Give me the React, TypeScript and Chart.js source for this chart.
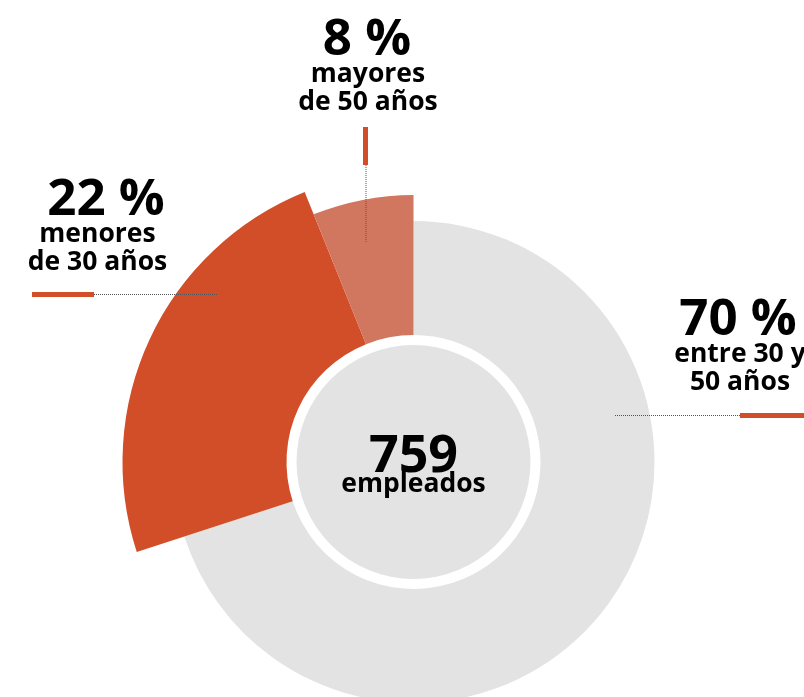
import React, { useEffect, useRef } from "react";
import { Chart, registerables } from "chart.js";

Chart.register(...registerables);

const categories = ["entre 30 y 50 años", "menores de 30 años", "mayores de 50 años"];
// Slice sizes as drawn in the picture (angles), and the percentages printed in the labels
const sliceValues = [70, 23.9, 6.1];
const percentLabels = [70, 22, 8];
const totalEmployees = 759;
const totalLabel = "empleados";
const labelLines = [["entre 30 y", "50 años"], ["menores", "de 30 años"], ["mayores", "de 50 años"]];

const colors = ["#e2e3e2", "#d14e28", "#d1765f"];
const radii = [241, 291, 267];
const CUT = 127;
const INNER = 117;
const FONT = '"Open Sans", "Noto Sans", sans-serif';

type LabelPos = {
  px: number; tx: number; ty: number;
  bar: [number, number, number, number];
  dot: [number, number, number, number];
};
const labelPos: LabelPos[] = [
  { px: 738, tx: 740, ty: 335, bar: [740, 413, 64, 5], dot: [615, 415.5, 740, 415.5] },
  { px: 106, tx: 97.5, ty: 215, bar: [32, 292, 62, 5], dot: [94, 294.5, 218, 294.5] },
  { px: 367, tx: 368, ty: 55, bar: [363, 127, 5, 38], dot: [366, 165, 366, 243] },
];

const overlay = {
  id: "overlay",
  afterDatasetsUpdate(chart: any) {
    const meta = chart.getDatasetMeta(0);
    meta.data.forEach((arc: any, i: number) => {
      arc.outerRadius = radii[i];
      arc.innerRadius = CUT;
    });
  },
  afterDatasetsDraw(chart: any) {
    const ctx = chart.ctx as CanvasRenderingContext2D;
    const arc = chart.getDatasetMeta(0).data[0];
    const cx = arc.x, cy = arc.y;
    ctx.save();
    ctx.fillStyle = "#e2e3e2";
    ctx.beginPath();
    ctx.arc(cx, cy, INNER, 0, Math.PI * 2);
    ctx.fill();
    ctx.fillStyle = "#000";
    ctx.textAlign = "center";
    ctx.textBaseline = "alphabetic";
    ctx.font = `bold 52px ${FONT}`;
    ctx.fillText(String(totalEmployees), cx, cy + 10);
    ctx.font = `bold 26.5px ${FONT}`;
    ctx.fillText(totalLabel, cx, cy + 30);

    percentLabels.forEach((v, i) => {
      const p = labelPos[i];
      ctx.fillStyle = "#000";
      ctx.font = `bold 51px ${FONT}`;
      ctx.fillText(`${v} %`, p.px, p.ty);
      ctx.font = `bold 26.5px ${FONT}`;
      labelLines[i].forEach((ln, j) => {
        ctx.fillText(ln, p.tx, p.ty + 27 + j * 27.5);
      });
      ctx.fillStyle = "#d14e28";
      ctx.fillRect(p.bar[0], p.bar[1], p.bar[2], p.bar[3]);
      ctx.strokeStyle = "#555";
      ctx.lineWidth = 1;
      ctx.setLineDash([1, 1]);
      ctx.beginPath();
      ctx.moveTo(p.dot[0], p.dot[1]);
      ctx.lineTo(p.dot[2], p.dot[3]);
      ctx.stroke();
      ctx.setLineDash([]);
    });
    ctx.restore();
  },
};

export default function App() {
  const ref = useRef<HTMLCanvasElement>(null);
  useEffect(() => {
    if (!ref.current) return;
    const chart = new Chart(ref.current, {
      type: "doughnut",
      data: {
        labels: categories,
        datasets: [
          {
            data: sliceValues,
            backgroundColor: colors,
            borderWidth: 0,
          },
        ],
      },
      options: {
        animation: false,
        responsive: false,
        events: [],
        cutout: CUT,
        layout: { padding: { left: 23, right: 0, top: 227, bottom: 0 } },
        plugins: { legend: { display: false }, tooltip: { enabled: false } },
      },
      plugins: [overlay],
    });
    return () => chart.destroy();
  }, []);
  return (
    <div style={{ position: "fixed", left: 0, top: 0, width: 804, height: 697, background: "#fff" }}>
      <canvas ref={ref} width={804} height={697} style={{ width: 804, height: 697 }} />
    </div>
  );
}
